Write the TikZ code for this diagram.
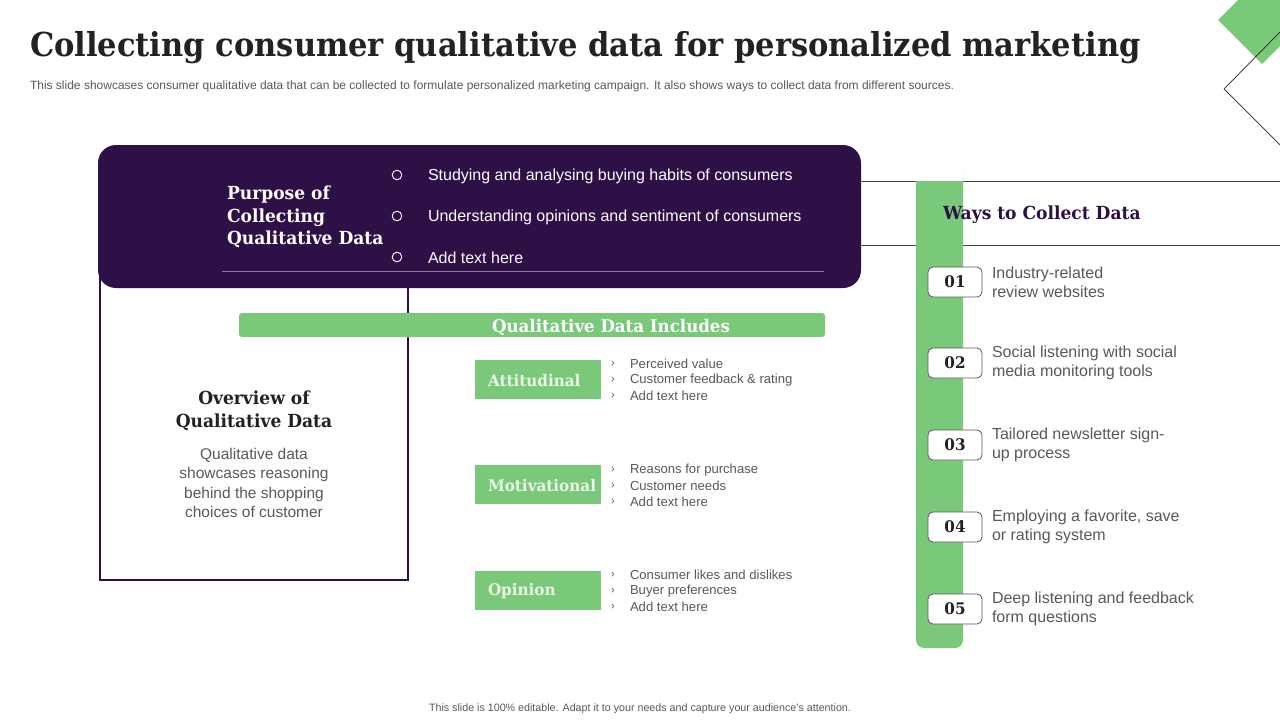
\documentclass[tikz,border=0pt]{standalone}
\usepackage{fontspec}
\setmainfont{Liberation Sans}
\newfontfamily\hd[FakeStretch=0.95]{DejaVu Serif}
\newfontfamily\hdt[FakeStretch=0.925]{DejaVu Serif}
\definecolor{purp}{HTML}{2E0F46}
\definecolor{grn}{HTML}{7AC97B}
\definecolor{txt}{HTML}{595959}
\definecolor{ttl}{HTML}{222222}
\definecolor{lgrn}{HTML}{EAF6E6}
\begin{document}
\begin{tikzpicture}[x=1pt,y=-1pt,
  every node/.style={inner sep=0pt, outer sep=0pt},
  headtxt/.style={font=\hd\bfseries\fontsize{18}{22.5}\selectfont},
  bodytxt/.style={font=\fontsize{15.5}{19}\selectfont, text=txt},
  smalltxt/.style={font=\fontsize{13.1}{16}\selectfont, text=txt},
  catbox/.style={fill=grn, minimum width=126pt, minimum height=39pt, anchor=north west},
  cattxt/.style={font=\hd\bfseries\fontsize{16}{19}\selectfont, text=lgrn, anchor=west},
  numbox/.style={draw=txt, line width=0.8pt, fill=white, rounded corners=5pt, minimum width=54pt, minimum height=30pt, font=\hd\bfseries\fontsize{16}{19}\selectfont, text=ttl},
  wline/.style={draw=txt!80!black, line width=0.9pt},
  bull/.style={draw=white, line width=0.9pt}
]
\useasboundingbox (0,0) rectangle (1280,720);
\fill[white] (0,0) rectangle (1280,720);

% top-right decoration
\begin{scope}
\clip (0,0) rectangle (1280,720);
\fill[grn] (1218,20) -- (1262,64) -- (1304,22) -- (1260,-22) -- cycle;
\draw[ttl, line width=0.7pt] (1282,30) -- (1224,89) -- (1282,147);
\end{scope}

% title
\node[anchor=base west, font=\hdt\bfseries\fontsize{33}{38}\selectfont, text=ttl] (title) at (30,56)
  {Collecting consumer qualitative data for personalized marketing};
\node[anchor=base west, font=\fontsize{12}{14}\selectfont, text=txt] (sub) at (30,89)
  {This slide showcases consumer qualitative data that can be collected to formulate personalized marketing campaign. It also shows ways to collect data from different sources.};

% overview box (behind purple box)
\draw[purp, line width=1.3pt] (100,270) rectangle (408,580);
\node[headtxt, text=ttl, align=center] (ovh) at (254,411) {Overview of\\Qualitative Data};
\node[bodytxt, align=center, font=\fontsize{15.5}{19.2}\selectfont] (ovb) at (254,483)
  {Qualitative data\\showcases reasoning\\behind the shopping\\choices of customer};

% purple box
\fill[purp, rounded corners=18pt] (98,145) rectangle (861,288);
\draw[purp!55!white, line width=0.6pt] (222,271) -- (824,271);
\node[headtxt, text=white, align=left, anchor=west] (purpose) at (227,217)
  {Purpose of\\Collecting\\Qualitative Data};
\foreach \y/\t [count=\i] in {175/Studying and analysing buying habits of consumers,
                   216/Understanding opinions and sentiment of consumers,
                   257/Add text here}{
  \draw[bull] (397,\y) circle (4.8pt);
  \node[anchor=west, font=\fontsize{16}{19}\selectfont, text=white] (pb\i) at (428,\y+1) {\t};
}

% qualitative data includes bar
\node[fill=grn, rounded corners=3pt, minimum width=586pt, minimum height=24pt, anchor=north west] (incl) at (239,313) {};
\node[font=\hd\bfseries\fontsize{17.5}{20}\selectfont, text=white] (inclt) at (611,327) {Qualitative Data Includes};

% categories
\node[catbox] (att) at (475,360) {};
\node[cattxt] at ([xshift=13pt,yshift=-1pt]att.west) {Attitudinal};
\node[catbox] (mot) at (475,465) {};
\node[cattxt] at ([xshift=13pt,yshift=-1pt]mot.west) {Motivational};
\node[catbox] (opi) at (475,571) {};
\node[cattxt] at ([xshift=13pt,yshift=-1pt]opi.west) {Opinion};

\foreach \y/\t [count=\i] in {363/Perceived  value, 379/Customer feedback  \& rating, 395/Add text here,
  469/Reasons for purchase, 485/Customer needs, 501/Add text here,
  574/Consumer  likes and dislikes, 590/Buyer preferences, 606/Add text here}{
  \node[smalltxt, anchor=west, font=\fontsize{11}{13}\selectfont] (ar\i) at (611,\y+1) {›};
  \node[smalltxt, anchor=west] (it\i) at (630,\y+1) {\t};
}

% ways to collect data
\draw[wline] (861,181) -- (1280,181);
\draw[wline] (861,245) -- (1280,245);
\fill[grn, rounded corners=8pt] (916,170) -- (916,648) -- (963,648) -- (963,170);
\fill[grn] (916,181) rectangle (963,200);
\fill[white] (916,170) rectangle (963,181);
\node[headtxt, text=purp, anchor=west] (ways) at (943,215) {Ways to Collect Data};

\foreach \y/\n/\a/\b in {282/01/Industry-related/review websites,
                         363/02/Social listening with social/media monitoring tools,
                         445/03/Tailored newsletter  sign-/up process,
                         527/04/{Employing a favorite, save}/or rating system,
                         609/05/Deep listening and feedback/form questions}{
  \node[numbox] (n\n) at (955,\y) {\n};
  \node[bodytxt, anchor=west, align=left, font=\fontsize{16}{19}\selectfont] (w\n) at (992,\y) {\a\\\b};
}

% footer
\node[font=\fontsize{10.7}{12}\selectfont, text=txt] (foot) at (640,709)
  {This slide is 100\% editable.  Adapt it to your needs and capture your audience's attention.};
\end{tikzpicture}
\end{document}
